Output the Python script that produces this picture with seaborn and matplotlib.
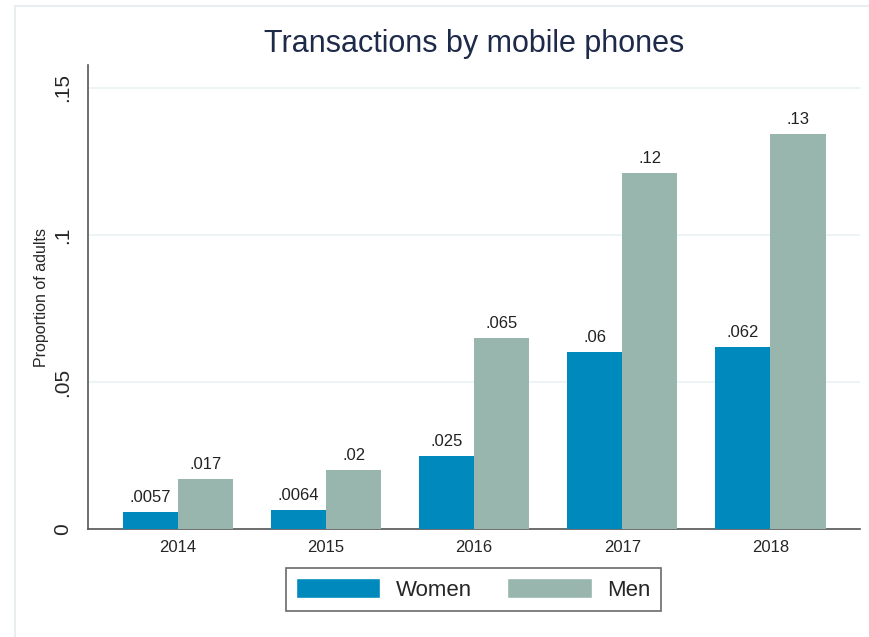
import numpy as np
import pandas as pd
import matplotlib.pyplot as plt
import seaborn as sns
from matplotlib.patches import Rectangle

# ==============================
# DATA
# ==============================
years = ["2014", "2015", "2016", "2017", "2018"]
women = [0.0057, 0.0064, 0.025, 0.0602, 0.0619]
men = [0.017, 0.020, 0.065, 0.121, 0.1343]
women_labels = [".0057", ".0064", ".025", ".06", ".062"]
men_labels = [".017", ".02", ".065", ".12", ".13"]
y_ticks = [0, 0.05, 0.1, 0.15]
y_ticklabels = ["0", ".05", ".1", ".15"]

df = pd.DataFrame({
    "year": years * 2,
    "value": women + men,
    "sex": ["Women"] * len(years) + ["Men"] * len(years),
})

sns.set_style("white")
plt.rcParams['font.family'] = ['Liberation Sans', 'DejaVu Sans']

colors = {"Women": "#0089BC", "Men": "#98B5AE"}

fig = plt.figure(figsize=(8.7, 6.37), dpi=100)
# faint outer frame like the Stata graph region
fig.patches.append(Rectangle((0.017, -0.01), 1.0, 1.0, transform=fig.transFigure,
                             fill=False, edgecolor="#E8EEF0", linewidth=1.5))
ax = fig.add_axes([0.101, 0.1695, 0.888, 0.7285])

sns.barplot(data=df, x="year", y="value", hue="sex", palette=colors,
            width=0.745, saturation=1, ax=ax, legend=False, zorder=3, linewidth=0)

for container, labels in zip(ax.containers, [women_labels, men_labels]):
    ax.bar_label(container, labels=labels, padding=5, fontsize=12, color="#222222")

ax.set_ylim(0, 0.1578)
ax.set_xlim(-0.608, 4.608)
ax.set_yticks(y_ticks)
ax.set_yticklabels(y_ticklabels, rotation=90, va="center", fontsize=15)
ax.tick_params(axis="y", length=5, width=1, color="#555555", pad=6)
ax.tick_params(axis="x", length=4, width=1, color="#555555", labelsize=12, pad=4)
ax.yaxis.grid(True, color="#EAF2F3", linewidth=1.2, zorder=0)
ax.set_axisbelow(True)

sns.despine(ax=ax, top=True, right=True)
for side in ["left", "bottom"]:
    ax.spines[side].set_color("#555555")
    ax.spines[side].set_linewidth(1.2)

ax.set_xlabel("")
ax.set_ylabel("Proportion of adults", fontsize=11.5, labelpad=3)
ax.set_title("Transactions by mobile phones", fontsize=22, color="#1E2A4A", pad=9)

handles = [Rectangle((0, 0), 1, 1, facecolor=colors["Women"]),
           Rectangle((0, 0), 1, 1, facecolor=colors["Men"])]
leg = fig.legend(handles, ["Women", "Men"], loc="center", bbox_to_anchor=(0.544, 0.0745),
                 ncol=2, fontsize=16, frameon=True, fancybox=False, edgecolor="#444444",
                 handlelength=3.8, handleheight=1.0, columnspacing=1.6, handletextpad=0.7,
                 borderpad=0.45)
leg.get_frame().set_linewidth(1.2)

plt.savefig("out.png", dpi=100)
plt.close()
